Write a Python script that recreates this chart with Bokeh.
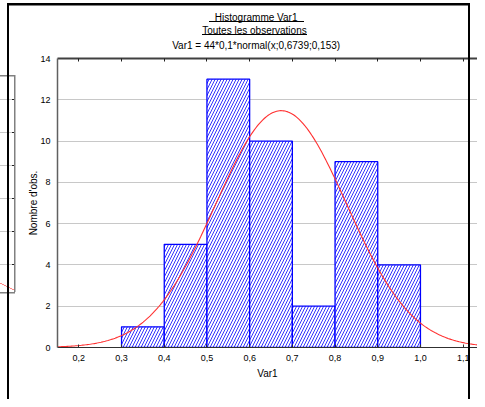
import numpy as np
from bokeh.plotting import figure
from bokeh.models import (LinearAxis, FixedTicker, Title, CustomJSTickFormatter,
                          InlineStyleSheet)
from bokeh.embed import file_html
from bokeh.resources import INLINE

# ---- data ----
bin_left = [0.3, 0.4, 0.5, 0.6, 0.7, 0.8, 0.9]
bin_right = [0.4, 0.5, 0.6, 0.7, 0.8, 0.9, 1.0]
counts = [1, 5, 13, 10, 2, 9, 4]
x_ticks = [0.2, 0.3, 0.4, 0.5, 0.6, 0.7, 0.8, 0.9, 1.0, 1.1]
x_tick_labels = ["0,2", "0,3", "0,4", "0,5", "0,6", "0,7", "0,8", "0,9", "1,0", "1,1"]
y_ticks = [0, 2, 4, 6, 8, 10, 12, 14]
n_obs = 44
bin_width = 0.1
mu = 0.6739
sigma = 0.153
title_lines = ["Histogramme Var1", "Toutes les observations",
               "Var1 = 44*0,1*normal(x;0,6739;0,153)"]
x_label = "Var1"
y_label = "Nombre d'obs."

FONT = "Liberation Sans"

# ---- layout (pixels) ----
W, H = 477, 399
FL, FT, FB = 57, 58, 347
X0, PXX = 0.15, 427.0
Y1 = 14.0

p = figure(width=W, height=H, output_backend="svg", toolbar_location=None,
           x_range=(X0, X0 + (W - FL) / PXX), y_range=(0, Y1),
           min_border_left=FL, min_border_right=0, min_border_top=FT,
           min_border_bottom=H - FB)
p.outline_line_color = None
p.background_fill_color = "white"
p.border_fill_color = "white"

# grid
p.xgrid.visible = False
p.ygrid.ticker = FixedTicker(ticks=y_ticks)
p.ygrid.grid_line_color = "#c8c8c8"
p.ygrid.grid_line_width = 1

# bottom axis
xa = p.xaxis[0]
xa.ticker = FixedTicker(ticks=x_ticks)
xa.major_label_overrides = dict(zip(x_ticks, x_tick_labels))
xa.major_tick_in = 3
xa.major_tick_out = 0
xa.minor_tick_in = 0
xa.minor_tick_out = 0
xa.major_label_standoff = 7
xa.major_label_text_font = FONT
xa.major_label_text_font_size = "9px"
xa.major_label_text_color = "black"
xa.axis_line_color = "#303030"
xa.major_tick_line_color = "#303030"
xa.axis_label = x_label
xa.axis_label_text_font = FONT
xa.axis_label_text_font_size = "10px"
xa.axis_label_text_font_style = "normal"
xa.axis_label_text_color = "black"
xa.axis_label_standoff = 4

# left axis
ya = p.yaxis[0]
ya.ticker = FixedTicker(ticks=y_ticks)
ya.major_tick_in = 0
ya.major_tick_out = 0
ya.minor_tick_in = 0
ya.minor_tick_out = 0
ya.major_label_standoff = 7
ya.major_label_text_font = FONT
ya.major_label_text_font_size = "9px"
ya.major_label_text_color = "black"
ya.axis_line_color = "#606060"
ya.axis_line_width = 1.5
ya.axis_label = y_label
ya.axis_label_text_font = FONT
ya.axis_label_text_font_size = "10px"
ya.axis_label_text_font_style = "normal"
ya.axis_label_text_color = "black"
ya.axis_label_standoff = -2

# top axis: frame border with inward ticks, no labels
top = LinearAxis(ticker=FixedTicker(ticks=x_ticks),
                 formatter=CustomJSTickFormatter(code="return ''"),
                 major_label_text_font_size="1px",
                 major_tick_in=3, major_tick_out=0, minor_tick_in=0, minor_tick_out=0,
                 axis_line_color="#404040", axis_line_width=2,
                 major_tick_line_color="#202020", major_label_standoff=0)
p.add_layout(top, "above")

# title lines (stacked outward from the frame: last line first)
em_widths = [8.335, 10.56, 16.87]
centers = [256, 254.5, 256]
standoffs = [14, -13, 16]
for t, em, c, s in reversed(list(zip(title_lines, em_widths, centers, standoffs))):
    p.add_layout(Title(text=t, align="left", offset=c - FL - em * 10 / 2,
                       text_font=FONT, text_font_size="10px", text_font_style="normal",
                       text_color="black", standoff=s), "above")

# bars
p.quad(left=bin_left, right=bin_right, top=counts, bottom=0,
       fill_color="white", line_color="#0000ff", line_width=1.3,
       hatch_pattern="/", hatch_color="#3333ff", hatch_scale=6, hatch_weight=1)

# fitted normal curve (parameters from the chart's own title)
xs = np.linspace(X0, X0 + (W - FL) / PXX, 300)
ys = n_obs * bin_width * np.exp(-0.5 * ((xs - mu) / sigma) ** 2) / (sigma * np.sqrt(2 * np.pi))
p.line(xs, ys, line_color="#ff3030", line_width=1.1)

# screenshot decorations (window frame, title underlines, neighbouring chart edge)
rects = [
    ("#000", 7, 3, 463, 2.5),      # top window edge
    ("#000", 7, 3, 2, H),          # left window edge
    ("#000", 468, 3, 2.3, H),      # right window edge
    ("#000", 209, 20.5, 95, 1),    # underline title 1
    ("#000", 202, 34, 105, 1),     # underline title 2
    ("#808080", 13.5, 75, 1.5, 217),  # neighbour chart right border
    ("#808080", 0, 75, 15, 1.5),
    ("#808080", 0, 291.5, 15, 1.5),
]
for gy in [99, 132, 165, 198, 231, 264]:
    rects.append(("#202020", 12, gy, 2, 1))
    rects.append(("#c8c8c8", 0, gy, 13, 1))
imgs, sizes, poss = [], [], []
for col, x, y, w, h in rects:
    imgs.append(f"linear-gradient({col},{col})")
    sizes.append(f"{w}px {h}px")
    poss.append(f"{x}px {y}px")
imgs.append("linear-gradient(to top right, transparent calc(50% - 0.7px), #ff5050, transparent calc(50% + 0.7px))")
sizes.append("14px 7px")
poss.append("0px 283px")
css = (":host { position: relative; }\n"
       ":host::after { content: ''; position: absolute; left: 0; top: 0; "
       f"width: {W}px; height: {H}px; pointer-events: none; z-index: 10; "
       "background-repeat: no-repeat; "
       f"background-image: {', '.join(imgs)}; "
       f"background-size: {', '.join(sizes)}; "
       f"background-position: {', '.join(poss)}; }}")
p.stylesheets = [InlineStyleSheet(css=css)]

open("out.html", "w").write(file_html(p, INLINE))
